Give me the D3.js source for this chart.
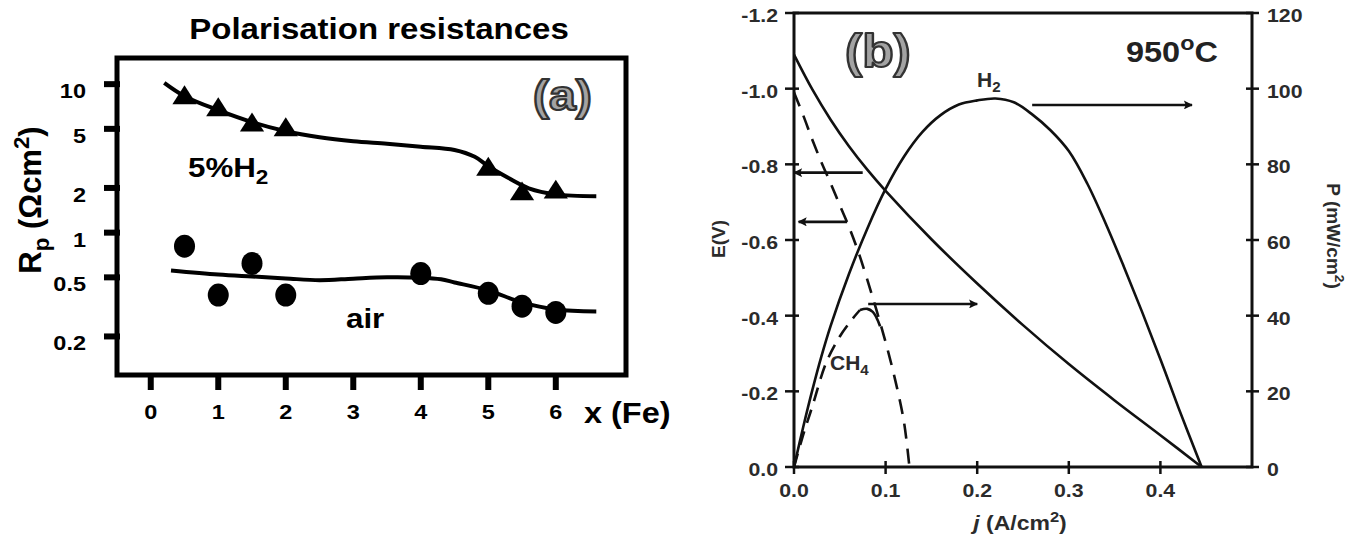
<!DOCTYPE html>
<html><head><meta charset="utf-8">
<script src="https://cdn.jsdelivr.net/npm/d3@7"></script>
<style>body{margin:0;background:#fff}svg{display:block}text{font-family:"Liberation Sans",Arial,sans-serif;font-weight:bold}</style>
</head><body>
<script>
// ---------- Panel (a) data ----------
const aTicksX = [0,1,2,3,4,5,6];
const aTicksY = [0.2,0.5,1,2,5,10];
const aTickLabelsY = ["0.2","0.5","1","2","5","10"];
const aH2X = [0.5,1,1.5,2,5,5.5,6];
const aH2Y = [8.08,6.71,5.29,4.92,2.67,1.82,1.87];
const aAirX = [0.5,1,1.5,2,4,5,5.5,6];
const aAirY = [0.81,0.38,0.62,0.38,0.53,0.39,0.32,0.29];
const aH2FitX = [0.2,0.5,1,1.5,2,2.5,3,3.5,4,4.5,4.8,5,5.3,5.6,6,6.6];
const aH2FitY = [10.2,8.3,6.68,5.55,4.82,4.39,4.13,3.97,3.79,3.6,3.24,2.8,2.33,1.99,1.81,1.76];
const aAirFitX = [0.3,1,1.5,2,2.5,3,3.5,4,4.3,4.5,5,5.5,6,6.6];
const aAirFitY = [0.557,0.523,0.507,0.492,0.478,0.49,0.5,0.497,0.485,0.462,0.408,0.339,0.304,0.295];

// ---------- Panel (b) data ----------
const bTicksJ = [0,0.1,0.2,0.3,0.4];
const bTicksE = [0,-0.2,-0.4,-0.6,-0.8,-1.0,-1.2];
const bTicksP = [0,20,40,60,80,100,120];
const bH2J = [0,0.02,0.04,0.06,0.08,0.10,0.15,0.20,0.25,0.30,0.35,0.40,0.445];
const bH2E = [-1.09,-0.998,-0.918,-0.848,-0.786,-0.73,-0.602,-0.485,-0.375,-0.272,-0.176,-0.084,0];
const bH2PJ = [0,0.01,0.02,0.03,0.04,0.06,0.08,0.10,0.12,0.14,0.16,0.18,0.20,0.22,0.24,0.26,0.28,0.30,0.32,0.34,0.36,0.38,0.40,0.42,0.445];
const bH2P = [0,10.5,20.3,29.3,37.3,51,63,73.5,82,88.5,93,95.8,96.9,97.4,96.4,93.2,89,83.5,75,64.5,53,41,28.5,15.5,0];
const bCH4J = [0,0.01,0.02,0.03,0.04,0.05,0.06,0.07,0.08,0.09,0.10,0.11,0.12,0.126];
const bCH4E = [-0.99,-0.93,-0.865,-0.805,-0.75,-0.692,-0.635,-0.57,-0.495,-0.415,-0.33,-0.235,-0.12,0];
const bCH4PJ = [0,0.01,0.02,0.035,0.05,0.065,0.072];
const bCH4P = [0,8.5,16,27.5,34.5,39.5,41.5];
const bHookJ = [0.072,0.08,0.086,0.09,0.094];
const bHookP = [41.5,41.8,41,39.5,37.2];
// arrows: [j0, v0, j1, v1, axis]
const bArrows = [
  [0.26,95.7,0.4345,95.7,"P"],
  [0.075,-0.778,0.0,-0.778,"E"],
  [0.058,-0.648,0.005,-0.648,"E"],
  [0.081,43.1,0.2,43.1,"P"]
];

const W = 1347, H = 536;
const svg = d3.select("body").append("svg").attr("width",W).attr("height",H);
svg.append("rect").attr("width",W).attr("height",H).attr("fill","#fff");

function label(parent, x, y, parts, o){
  o = Object.assign({size:20, anchor:"start", fill:"#000", sx:1.12, rot:0}, o||{});
  const g = parent.append("g").attr("transform",`translate(${x},${y}) rotate(${o.rot}) scale(${o.sx},1)`);
  const t = g.append("text").attr("font-size",o.size).attr("text-anchor",o.anchor).attr("fill",o.fill);
  if (o.stroke) t.attr("stroke",o.stroke).attr("stroke-width",o.sw||2).attr("stroke-linejoin","round");
  if (typeof parts === "string") parts = [[parts]];
  let shift = 0;
  parts.forEach(p=>{
    const s = p[0], kind = p[1];
    const ts = t.append("tspan").text(s);
    if (p[2]) ts.attr("font-style",p[2]);
    let target = 0;
    if (kind === "sub") { ts.attr("font-size",o.size*0.72); target = o.size*0.25; }
    else if (kind === "sup") { ts.attr("font-size",o.size*0.72); target = -o.size*0.4; }
    if (target !== shift) { ts.attr("dy", target - shift); shift = target; }
  });
  return t;
}

// ================= Panel (a) =================
const xa = d3.scaleLinear().domain([-0.5,7.04]).range([117,626]);
const ya = d3.scaleLog().domain([0.11,15]).range([375,58]);
const ga = svg.append("g");

ga.append("rect").attr("x",117).attr("y",58).attr("width",509).attr("height",317)
  .attr("fill","none").attr("stroke","#000").attr("stroke-width",5);
aTicksY.forEach((t,i)=>{
  ga.append("line").attr("x1",104).attr("x2",120).attr("y1",ya(t)).attr("y2",ya(t))
    .attr("stroke","#000").attr("stroke-width",6);
  label(ga, 86, ya(t)+14, aTickLabelsY[i], {size:21, anchor:"end"});
});
aTicksX.forEach(t=>{
  ga.append("line").attr("x1",xa(t)).attr("x2",xa(t)).attr("y1",373).attr("y2",390)
    .attr("stroke","#000").attr("stroke-width",6);
  label(ga, xa(t), 419, String(t), {size:21, anchor:"middle"});
});
label(ga, 584, 423, "x (Fe)", {size:29});
label(ga, 379, 39, "Polarisation resistances", {size:30, anchor:"middle", sx:1.1});
label(ga, 41, 200, [["R"],["p","sub"],[" (Ωcm"],["2","sup"],[")"]], {size:31, anchor:"middle", rot:-90, sx:1});
label(ga, 533, 110, "(a)", {size:43, fill:"#a3a3a3", stroke:"#333", sw:2.2});
label(ga, 188, 177, [["5%H"],["2","sub"]], {size:27, sx:1.16});
label(ga, 346, 328, "air", {size:27, sx:1.16});

const lineA = d3.line().curve(d3.curveCatmullRom.alpha(0.5));
ga.append("path").attr("d", lineA(aH2FitX.map((x,i)=>[xa(x), ya(aH2FitY[i])])))
  .attr("fill","none").attr("stroke","#000").attr("stroke-width",4);
ga.append("path").attr("d", lineA(aAirFitX.map((x,i)=>[xa(x), ya(aAirFitY[i])])))
  .attr("fill","none").attr("stroke","#000").attr("stroke-width",4);
const tri = d3.symbol().type(d3.symbolTriangle).size(230);
aH2X.forEach((x,i)=>{
  ga.append("path").attr("d",tri()).attr("transform",`translate(${xa(x)},${ya(aH2Y[i])}) scale(1.05,0.95)`).attr("fill","#000");
});
aAirX.forEach((x,i)=>{
  ga.append("ellipse").attr("cx",xa(x)).attr("cy",ya(aAirY[i])).attr("rx",10.5).attr("ry",11.5).attr("fill","#000");
});

// ================= Panel (b) =================
const xb = d3.scaleLinear().domain([0,0.5]).range([794,1252]);
const yE = d3.scaleLinear().domain([0,-1.2]).range([467,13]);
const yP = d3.scaleLinear().domain([0,120]).range([467,13]);
const gb = svg.append("g");
const tc = "#2b2b2b";

gb.append("rect").attr("x",794).attr("y",13).attr("width",458).attr("height",454)
  .attr("fill","none").attr("stroke","#111").attr("stroke-width",3);
bTicksE.forEach(t=>{
  gb.append("line").attr("x1",785).attr("x2",799).attr("y1",yE(t)).attr("y2",yE(t)).attr("stroke","#111").attr("stroke-width",2.5);
  label(gb, 778, yE(t)+9, t.toFixed(1), {size:19, anchor:"end", fill:tc});
});
bTicksP.forEach(t=>{
  gb.append("line").attr("x1",1246).attr("x2",1259).attr("y1",yP(t)).attr("y2",yP(t)).attr("stroke","#111").attr("stroke-width",2.5);
  label(gb, 1267, yP(t)+9, String(t), {size:19, fill:tc});
});
bTicksJ.forEach(t=>{
  gb.append("line").attr("x1",xb(t)).attr("x2",xb(t)).attr("y1",461).attr("y2",474).attr("stroke","#111").attr("stroke-width",2.5);
  label(gb, xb(t), 497, t.toFixed(1), {size:19, anchor:"middle", fill:tc});
});
label(gb, 1020, 530, [["j","", "italic"],[" (A/cm"],["2","sup"],[")"]], {size:20, anchor:"middle", fill:tc, sx:1.15});
label(gb, 725, 239, "E(V)", {size:19, anchor:"middle", fill:tc, rot:-90, sx:1});
label(gb, 1327, 236, [["P (mW/cm"],["2","sup"],[")"]], {size:19, anchor:"middle", fill:tc, rot:90, sx:1});
label(gb, 845, 67, "(b)", {size:46, fill:"#a3a3a3", stroke:"#333", sw:2.2});
label(gb, 1126, 62, [["950"],["o","sup"],["C"]], {size:29, fill:"#222"});
label(gb, 977, 87, [["H"],["2","sub"]], {size:20, fill:tc, sx:1.05});
label(gb, 830, 370, [["CH"],["4","sub"]], {size:20, fill:tc, sx:1.05});

const lineB = d3.line().curve(d3.curveCatmullRom.alpha(0.5));
const sty = (p,dash)=>{p.attr("fill","none").attr("stroke","#111").attr("stroke-width",2.6); if(dash) p.attr("stroke-dasharray",dash); return p;};
sty(gb.append("path").attr("d", lineB(bH2J.map((j,i)=>[xb(j), yE(bH2E[i])]))));
sty(gb.append("path").attr("d", lineB(bH2PJ.map((j,i)=>[xb(j), yP(bH2P[i])]))));
sty(gb.append("path").attr("d", lineB(bCH4J.map((j,i)=>[xb(j), yE(bCH4E[i])]))), "15,10");
sty(gb.append("path").attr("d", lineB(bCH4PJ.map((j,i)=>[xb(j), yP(bCH4P[i])]))), "14,9");
sty(gb.append("path").attr("d", lineB(bHookJ.map((j,i)=>[xb(j), yP(bHookP[i])]))));

// arrowheads
svg.append("defs").append("marker").attr("id","ah").attr("viewBox","0 0 10 10")
  .attr("refX",9).attr("refY",5).attr("markerWidth",12).attr("markerHeight",9)
  .attr("markerUnits","userSpaceOnUse").attr("orient","auto")
  .append("path").attr("d","M0,0 L10,5 L0,10 L2,5 Z").attr("fill","#111");
bArrows.forEach(a=>{
  const ys = a[4]==="P" ? yP : yE;
  gb.append("line").attr("x1",xb(a[0])).attr("y1",ys(a[1])).attr("x2",xb(a[2])).attr("y2",ys(a[3]))
    .attr("stroke","#111").attr("stroke-width",2.6).attr("marker-end","url(#ah)");
});
</script>
</body></html>
